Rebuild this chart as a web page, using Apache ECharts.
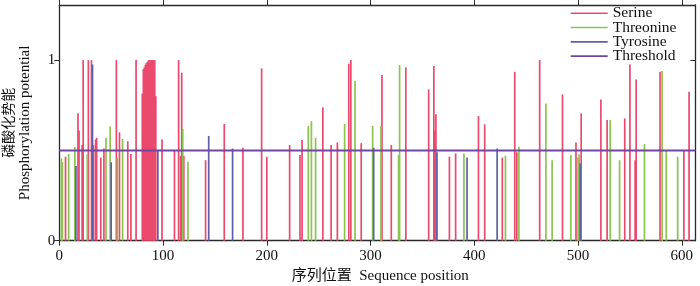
<!DOCTYPE html>
<html>
<head>
<meta charset="utf-8">
<script src="https://cdn.jsdelivr.net/npm/echarts@6/dist/echarts.min.js"></script>
<style>
  html, body { margin: 0; padding: 0; background: #fff; }
  #chart { width: 700px; height: 286px; }
</style>
</head>
<body>
<div id="chart"></div>
<script>
// [sequence position, phosphorylation potential]
const serine = [
  [6, 0.465], [18, 0.705], [19, 0.61], [22, 0.53], [23, 1.0], [28, 1.0], [31, 1.0],
  [33, 0.53], [35, 0.56], [36, 0.57], [40, 0.46], [43, 0.51], [55, 1.0], [58, 0.60],
  [66, 0.55], [69, 0.48], [74, 1.0],
  [80, 0.815], [81, 0.95], [82, 0.96], [83, 0.975], [84, 0.985], [85, 0.99], [86, 1.0],
  [87, 1.0], [88, 1.0], [89, 1.0], [90, 1.0], [91, 1.0], [92, 1.0], [93, 0.80],
  [99, 0.56], [111, 0.50], [115, 1.0], [117, 0.47], [118, 0.93], [120, 0.47],
  [141, 0.446], [159, 0.646], [177, 0.515], [195, 0.954], [200, 0.465], [222, 0.53],
  [232, 0.474], [234, 0.557], [254, 0.738], [262, 0.53], [268, 0.544], [279, 0.98],
  [281, 1.0], [291, 0.54], [311, 0.917], [320, 0.53], [334, 0.96], [356, 0.838],
  [361, 0.967], [362, 0.61], [363, 0.70], [376, 0.465], [382, 0.483], [404, 0.69],
  [410, 0.644], [427, 0.46], [439, 0.935], [441, 0.49], [463, 1.0], [485, 0.81],
  [498, 0.544], [503, 0.705], [522, 0.782], [528, 0.668], [545, 0.677], [550, 0.976],
  [555, 0.446], [556, 0.893], [579, 0.935], [602, 0.498], [607, 0.825]
];
const threonine = [
  [2, 0.456], [3, 0.435], [9, 0.48], [15, 0.52], [27, 0.48], [45, 0.57], [49, 0.633],
  [56, 0.46], [61, 0.563], [119, 0.62], [124, 0.437], [240, 0.635], [243, 0.662],
  [247, 0.57], [275, 0.646], [285, 0.886], [302, 0.636], [310, 0.635], [327, 0.474],
  [328, 0.972], [390, 0.483], [430, 0.47], [443, 0.52], [469, 0.76], [475, 0.446],
  [493, 0.474], [500, 0.46], [501, 0.478], [531, 0.668], [540, 0.446], [564, 0.535],
  [581, 0.94], [585, 0.498], [596, 0.465]
];
const tyrosine = [
  [16, 0.413], [32, 0.976], [50, 0.434], [95, 0.50], [144, 0.58], [167, 0.51],
  [303, 0.515], [364, 0.49], [393, 0.46], [422, 0.51], [502, 0.428]
];
const threshold = 0.5;
const seqLength = 613;
const xTicks = [0, 100, 200, 300, 400, 500, 600];
const yTicks = [0, 1];

const FONT = '"Liberation Serif", "Noto Sans CJK SC", serif';
const axisColor = '#2a2a2a';

const chart = echarts.init(document.getElementById('chart'));

const barSeries = (name, data, color) => ({
  name: name,
  type: 'bar',
  data: data,
  barWidth: 1.7,
  barGap: '-100%',
  itemStyle: {color: color},
  emphasis: {disabled: true}
});

chart.setOption({
  animation: false,
  textStyle: {fontFamily: FONT},
  grid: {left: 59.3, right: 4.7, top: 5, bottom: 45.3, outerBoundsMode: 'none'},
  legend: {
    orient: 'vertical',
    left: 570.7,
    top: 5.5,
    padding: 0,
    itemGap: -1.2,
    itemWidth: 37,
    itemHeight: 1.6,
    icon: 'rect',
    textStyle: {fontFamily: FONT, fontSize: 15.5, color: '#111', lineHeight: 14.2},
    data: ['Serine', 'Threonine', 'Tyrosine', 'Threshold']
  },
  xAxis: [
    {
      type: 'value',
      min: 0,
      max: seqLength,
      interval: 100,
      position: 'bottom',
      axisLine: {show: true, onZero: false, lineStyle: {color: axisColor, width: 1.3}},
      axisTick: {show: true, length: 5, customValues: xTicks, lineStyle: {color: axisColor}},
      axisLabel: {customValues: xTicks, fontSize: 15, color: '#111', margin: 8, fontFamily: FONT},
      splitLine: {show: false},
      name: '序列位置  Sequence position',
      nameLocation: 'middle',
      nameGap: 22,
      nameTextStyle: {fontSize: 15, color: '#111', fontFamily: FONT, padding: [0, 0, 0, 6]}
    },
    {
      type: 'value',
      min: 0,
      max: seqLength,
      interval: 100,
      position: 'top',
      axisLine: {show: true, onZero: false, lineStyle: {color: axisColor, width: 1.3}},
      axisTick: {show: true, length: 5, customValues: xTicks, lineStyle: {color: axisColor}},
      axisLabel: {show: false},
      splitLine: {show: false}
    }
  ],
  yAxis: [
    {
      type: 'value',
      min: 0,
      max: 1.305,
      interval: 1,
      position: 'left',
      axisLine: {show: true, onZero: false, lineStyle: {color: axisColor, width: 1.3}},
      axisTick: {show: true, length: 5, customValues: yTicks, lineStyle: {color: axisColor}},
      axisLabel: {customValues: yTicks, fontSize: 15, color: '#111', margin: 4, fontFamily: FONT},
      splitLine: {show: false},
      name: '{cn|磷酸化势能}\n{en|Phosphorylation potential}',
      nameLocation: 'middle',
      nameRotate: 90,
      nameGap: 26,
      nameTextStyle: {
        color: '#111',
        rich: {
          cn: {fontSize: 14, lineHeight: 16, fontFamily: FONT, color: '#111'},
          en: {fontSize: 15, lineHeight: 16, fontFamily: FONT, color: '#111'}
        }
      }
    },
    {
      type: 'value',
      min: 0,
      max: 1.305,
      interval: 1,
      position: 'right',
      axisLine: {show: true, onZero: false, lineStyle: {color: axisColor, width: 1.3}},
      axisTick: {show: true, inside: true, length: 5, customValues: yTicks, lineStyle: {color: axisColor}},
      axisLabel: {show: false},
      splitLine: {show: false}
    }
  ],
  series: [
    barSeries('Serine', serine, '#ea4a6e'),
    barSeries('Threonine', threonine, '#8cc450'),
    barSeries('Tyrosine', tyrosine, '#5d60a8'),
    {
      name: 'Threshold',
      type: 'line',
      data: [[0, threshold], [seqLength, threshold]],
      symbol: 'none',
      color: '#7046a2',
      lineStyle: {color: '#7046a2', width: 2},
      emphasis: {disabled: true},
      z: 3
    }
  ]
});
</script>
</body>
</html>
